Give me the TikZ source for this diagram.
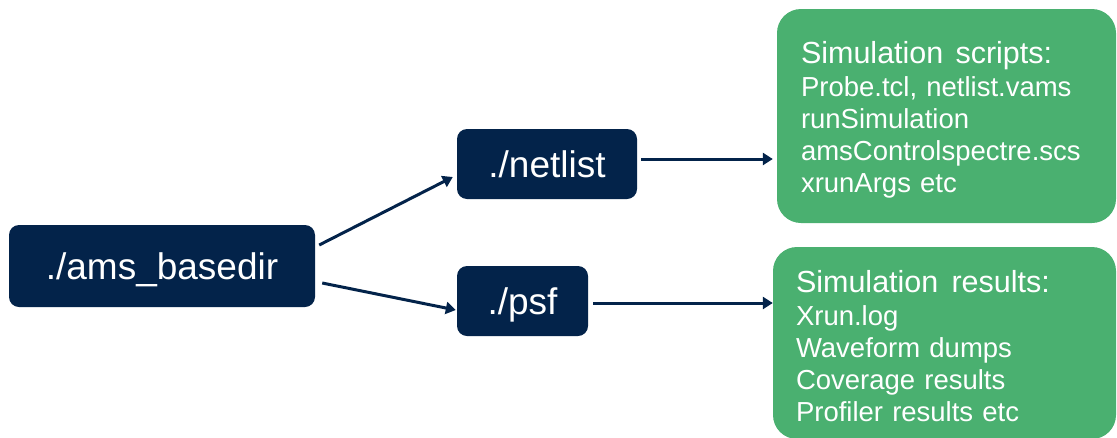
\documentclass[tikz,border=0pt]{standalone}
\usepackage{fontspec}
\setmainfont{Liberation Sans}
\usetikzlibrary{calc,arrows.meta}
\definecolor{navy}{RGB}{3,35,74}
\definecolor{leaf}{RGB}{74,176,112}
\tikzset{
  dirbox/.style={fill=navy, rounded corners=10pt, text=white, inner sep=0pt,
    font=\fontsize{37}{40}\selectfont, text height=26.5pt, text depth=0pt},
  infobox/.style={fill=leaf, rounded corners=24pt, text=white, align=left,
    font=\fontsize{27.5}{32}\selectfont, inner ysep=0pt},
  conn/.style={draw=navy, line width=3pt, -{Triangle[length=10pt,width=12pt]}},
}
\begin{document}
\begin{tikzpicture}[x=1pt,y=-1pt]
\useasboundingbox (0,0) rectangle (1117,437);
\node[dirbox, minimum width=306pt, minimum height=82pt] (ams) at (162,266) {./ams\_basedir};
\node[dirbox, minimum width=180pt, minimum height=70pt] (netlist) at (547,164) {./netlist};
\node[dirbox, minimum width=131pt, minimum height=70pt] (psf) at (522.5,301) {./psf};
\node[infobox, minimum width=339pt, minimum height=214pt, inner xsep=24pt, text width=291pt] (scripts) at (946.5,116)
  {\rule{0pt}{30pt}{\fontsize{30.5}{33}\selectfont Simulation\hspace{3pt} scripts:}\\[1pt]
   Probe.tcl, netlist.vams\\ runSimulation\\ amsControlspectre.scs\\ xrunArgs etc};
\node[infobox, minimum width=343pt, minimum height=192pt, inner xsep=23pt, text width=297pt] (results) at (944.5,343)
  {\rule{0pt}{29pt}{\fontsize{30.5}{33}\selectfont Simulation\hspace{4pt} results:}\\[1pt]
   Xrun.log\\ Waveform dumps\\ Coverage results\\ Profiler results etc};
\draw[conn] ($(ams.east)+(4,-21)$) -- ($(netlist.west)+(-4,13)$);
\draw[conn] ($(ams.east)+(7,17)$) -- ($(psf.west)+(-1,9)$);
\draw[conn] ($(netlist.east)+(4,-5)$) -- ($(scripts.west)+(-4,43)$);
\draw[conn] ($(psf.east)+(5,2)$) -- ($(results.west)+(0,-40)$);
\end{tikzpicture}
\end{document}
